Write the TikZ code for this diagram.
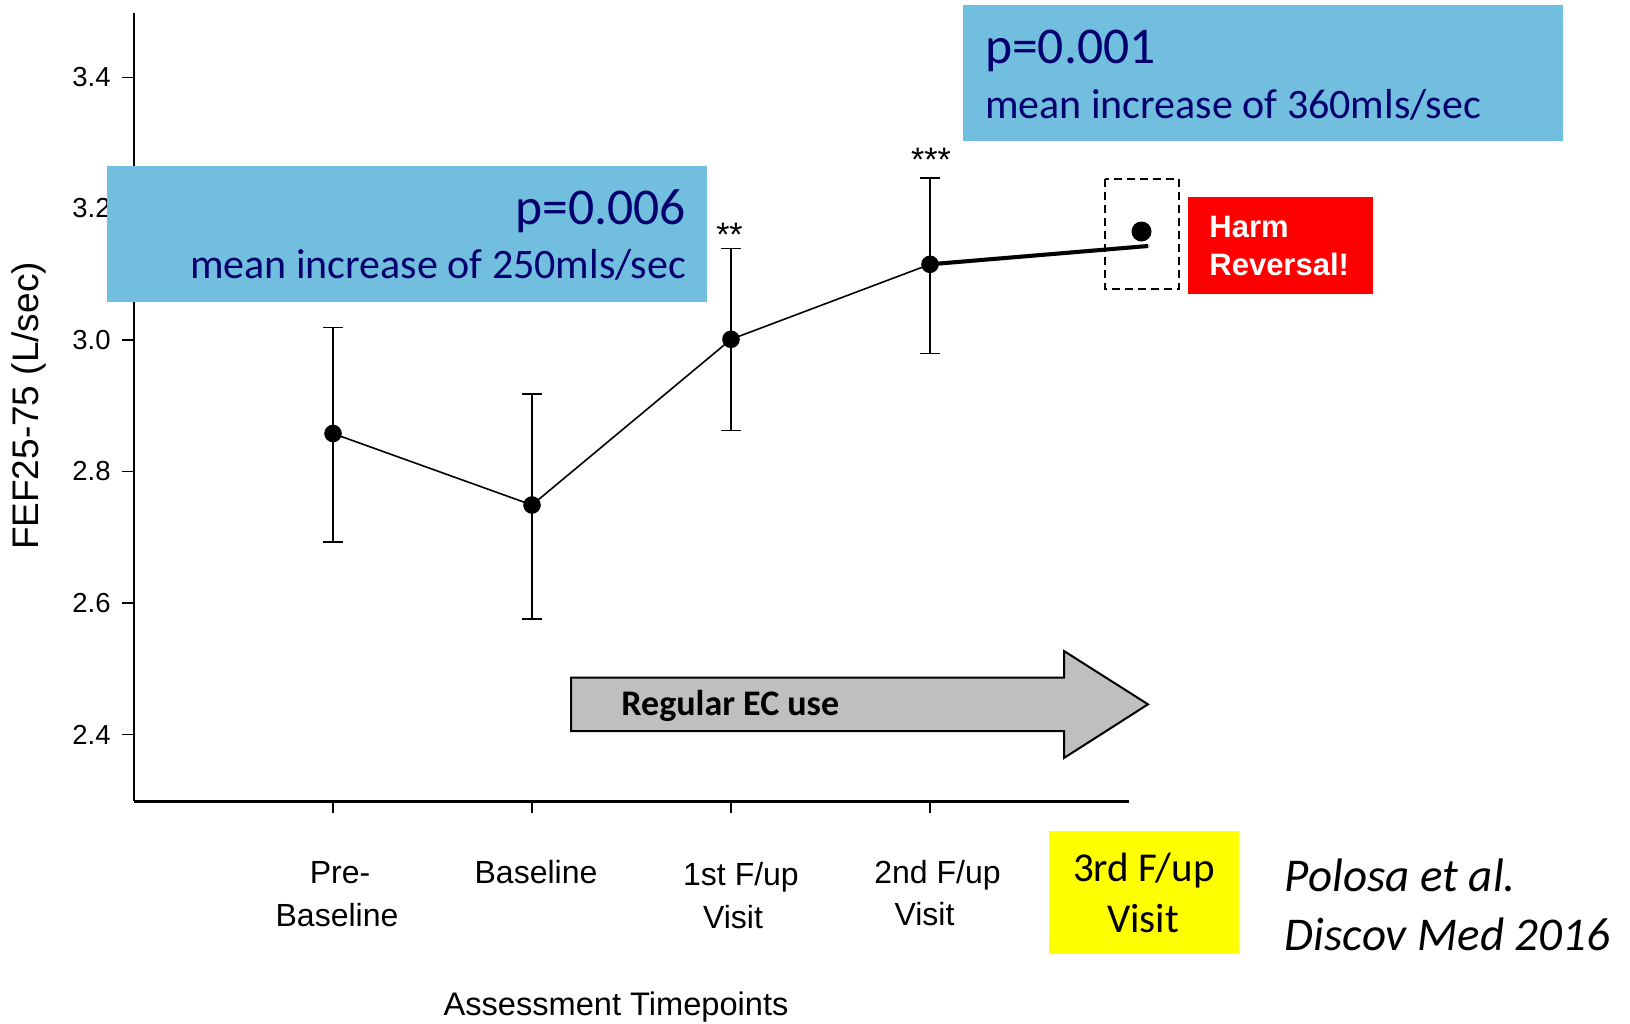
\documentclass[tikz,border=0pt]{standalone}
\usepackage{fontspec}
\setmainfont{Liberation Sans}
\newfontfamily\calfont{Carlito}
\definecolor{boxblue}{RGB}{114,190,222}
\definecolor{navytext}{RGB}{0,0,110}
\definecolor{arrowgray}{RGB}{191,191,191}
\definecolor{harmred}{RGB}{255,0,0}
\definecolor{fupyellow}{RGB}{255,255,0}
\begin{document}
\begin{tikzpicture}[x=0.5pt,y=-0.5pt,
  ticklab/.style={font=\fontsize{13.75}{16}\selectfont, anchor=east, inner sep=0},
  catlab/.style={font=\fontsize{16}{19}\selectfont, anchor=base, inner sep=0},
  datadot/.style={circle, fill=black, inner sep=0, minimum size=8.8pt},
  ebar/.style={line width=0.9pt},
  dataline/.style={line width=0.8pt},
  stars/.style={font=\fontsize{17}{20}\selectfont, anchor=base, inner sep=0},
  bluebox/.style={fill=boxblue, draw=none},
  bigp/.style={font=\calfont\fontsize{25.8}{30}\selectfont, text=navytext, inner sep=0},
  meaninc/.style={font=\calfont\fontsize{21}{25}\selectfont, text=navytext, inner sep=0},
]
\useasboundingbox (0,0) rectangle (1630,1024);

% axes
\draw[line width=1pt] (134,12.5) -- (134,801);
\draw[line width=1.5pt] (133.5,801) -- (1129,801);
\foreach \v/\y [count=\i] in {3.4/77.5, 3.2/208.5, 3.0/339.6, 2.8/471.5, 2.6/603, 2.4/734.5}{
  \draw[line width=0.9pt] (122,\y) -- (134,\y);
  \node[ticklab] (tick\i) at (111,\y) {\v};
}
\foreach \i in {1,...,4}{
  \draw[line width=0.9pt] ({134+199*\i},801) -- ({134+199*\i},813);
}

% axis titles
\node[rotate=90, font=\fontsize{18.5}{22}\selectfont, inner sep=0] (ytitle) at (29,406) {FEF25-75 (L/sec)};
\node[catlab, font=\fontsize{16.3}{19}\selectfont] (xtitle) at (616,1015) {Assessment Timepoints};

% category labels
\node[catlab] (c1a) at (340,883) {Pre-};
\node[catlab] (c1b) at (337,926.7) {Baseline};
\node[catlab] (c2a) at (536,883) {Baseline};
\node[catlab] (c3a) at (741,885) {1st F/up};
\node[catlab] (c3b) at (733,928) {Visit};
\node[catlab] (c4a) at (937.5,883) {2nd F/up};
\node[catlab] (c4b) at (924.5,925) {Visit};

% yellow 3rd visit box
\fill[fupyellow] (1049,831) rectangle (1239,953.7);
\node[anchor=base, inner sep=0, font=\calfont\fontsize{20.5}{24}\selectfont] (c5a) at (1144,881.7) {3rd F/up};
\node[anchor=base, inner sep=0, font=\calfont\fontsize{20.5}{24}\selectfont] (c5b) at (1143,932.7) {Visit};

% citation
\node[anchor=base west, inner sep=0, font=\calfont\itshape\fontsize{23.5}{28}\selectfont] (cit1) at (1284.5,891.7) {Polosa et al.};
\node[anchor=base west, inner sep=0, font=\calfont\itshape\fontsize{23.5}{28}\selectfont] (cit2) at (1284.5,950) {Discov Med 2016};

% error bars
\foreach \x/\t/\b in {333/327.5/541.6, 532/394/618.8, 731/248.5/430.4, 930/177.8/353.4}{
  \draw[ebar] (\x,\t) -- (\x,\b);
  \draw[ebar] (\x-10,\t) -- (\x+10,\t);
  \draw[ebar] (\x-10,\b) -- (\x+10,\b);
}

% data points (coordinates first, lines, then dots on top)
\coordinate (q1) at (333,433.5);
\coordinate (q2) at (532,505);
\coordinate (q3) at (731,339.3);
\coordinate (q4) at (930,264.3);
\draw[dataline] (q1) -- (q2) -- (q3) -- (q4);

% extension to 3rd visit
\coordinate (e5) at (1148,246);
\draw[line width=2pt, black!30, opacity=0.5, line cap=round, shift={(3,6)}] (q4) -- (e5);
\draw[line width=2pt, black!20, opacity=0.5, line cap=round, shift={(2,4)}] (q4) -- (e5);
\draw[line width=2pt] (q4) -- (e5);

\node[datadot] (p1) at (q1) {};
\node[datadot] (p2) at (q2) {};
\node[datadot] (p3) at (q3) {};
\node[datadot] (p4) at (q4) {};
\node[circle, fill=black, inner sep=0, minimum size=10pt] (p5) at (1141.5,231.5) {};
\draw[dashed, line width=0.9pt, dash pattern=on 4pt off 2.5pt] (1105,179) rectangle (1178.6,289.3);

% stars
\node[stars] (s3) at (729.5,246) {**};
\node[stars] (s4) at (931,171) {***};

% harm reversal
\node[fill=harmred, minimum width=92.5pt, minimum height=48.35pt, inner sep=0] (harm) at (1280.5,245.35) {};
\node[anchor=base west, inner sep=0, text=white, font=\bfseries\fontsize{15.5}{18}\selectfont] (harm1) at (1209,237) {Harm};
\node[anchor=base west, inner sep=0, text=white, font=\bfseries\fontsize{15.5}{18}\selectfont] (harm2) at (1209,275) {Reversal!};

% blue boxes
\fill[bluebox] (962.7,5) rectangle (1563,140.7);
\node[bigp, anchor=base west] (pa) at (984.7,63) {p=0.001};
\node[meaninc, anchor=base west] (ma) at (984.7,118) {mean increase of 360mls/sec};

\fill[bluebox] (106.5,166) rectangle (707,301.8);
\node[bigp, anchor=base east] (pb) at (686.4,224) {p=0.006};
\node[meaninc, anchor=base east] (mb) at (686.4,278) {mean increase of 250mls/sec};

% regular EC use arrow
\draw[fill=arrowgray, line width=1pt, line join=miter]
  (571,677.7) -- (1064,677.7) -- (1064,651) -- (1148,704.3) -- (1064,758) -- (1064,731) -- (571,731) -- cycle;
\node[anchor=base west, inner sep=0, font=\calfont\bfseries\fontsize{18}{21}\selectfont] (ec) at (621,715) {Regular EC use};
\end{tikzpicture}
\end{document}
